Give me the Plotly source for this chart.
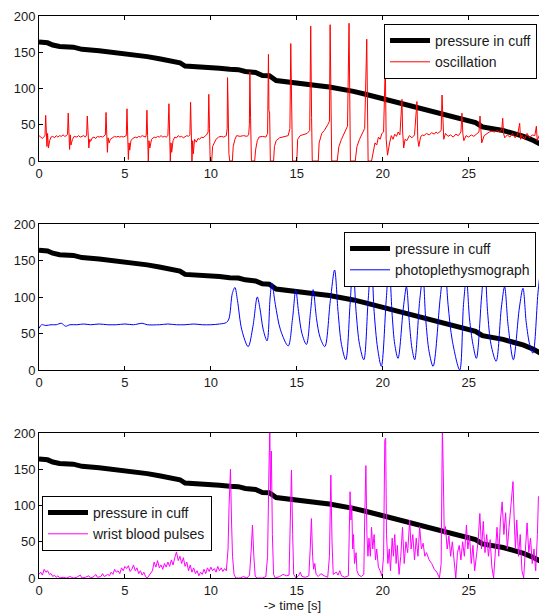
import plotly.graph_objects as go

# ---------------- data ----------------
# pressure in cuff: (time [s], pressure)
cuff_pts = [
    (0, 164), (0.5, 163), (0.8, 160), (1.2, 158), (2.0, 157), (2.5, 154),
    (3.5, 152), (5.0, 148.5), (6.3, 144), (7.0, 141), (7.6, 138.5), (8.2, 135.5),
    (8.5, 131), (9.7, 130), (10.5, 128), (11.1, 126.5), (11.6, 126), (12.0, 123.5),
    (12.6, 122), (13.0, 118), (13.4, 117.5), (13.8, 111), (14.2, 110), (15.4, 107),
    (16.0, 106), (16.4, 103.5), (16.9, 102), (17.5, 100), (18.3, 96), (19.0, 92),
    (20.0, 86), (21.0, 80), (21.8, 74), (22.6, 70), (23.5, 65), (24.3, 60),
    (25.0, 55), (25.4, 53), (25.8, 47), (26.4, 45), (27.0, 42), (27.6, 38),
    (28.2, 34), (28.8, 28), (29.5, 19),
]

# oscillation (red)
osc_pts = [
    (0.0, 35), (0.1, 33), (0.2, 31), (0.3, 34), (0.35, 35), (0.39, 63), (0.43, 40), (0.46, 20),
    (0.5, 38), (0.55, 18), (0.62, 28), (0.7, 33), (0.8, 34), (0.9, 32), (1.0, 35), (1.1, 33),
    (1.2, 35), (1.3, 34), (1.4, 36), (1.5, 34), (1.6, 35), (1.66, 37), (1.70, 66), (1.74, 38),
    (1.78, 16), (1.82, 36), (1.86, 22), (1.95, 30), (2.05, 34), (2.2, 33), (2.3, 35), (2.4, 33),
    (2.5, 34), (2.6, 35), (2.7, 33), (2.77, 36), (2.81, 62), (2.85, 30), (2.9, 18), (2.95, 30),
    (3.0, 27), (3.1, 32), (3.2, 33), (3.3, 31), (3.4, 34), (3.5, 33), (3.6, 34), (3.7, 33),
    (3.8, 35), (3.86, 36), (3.9, 67), (3.94, 40), (3.98, 12), (4.02, 32), (4.08, 25), (4.15, 30),
    (4.3, 32), (4.4, 34), (4.5, 33), (4.6, 34), (4.7, 33), (4.8, 34), (4.9, 33), (5.0, 34),
    (5.08, 35), (5.12, 72), (5.16, 30), (5.2, 2), (5.24, 25), (5.28, 15), (5.35, 28), (5.45, 31),
    (5.6, 33), (5.7, 32), (5.8, 34), (5.9, 33), (6.0, 35), (6.1, 34), (6.2, 33), (6.24, 36),
    (6.28, 70), (6.32, 35), (6.36, 0), (6.4, 28), (6.45, 18), (6.55, 30), (6.7, 33), (6.8, 32),
    (6.9, 34), (7.0, 33), (7.1, 35), (7.2, 33), (7.3, 34), (7.4, 33), (7.5, 35), (7.56, 79),
    (7.6, 40), (7.64, 0), (7.68, 25), (7.72, 12), (7.8, 28), (7.9, 33), (8.0, 32), (8.1, 35),
    (8.2, 33), (8.3, 34), (8.4, 32), (8.5, 33), (8.6, 35), (8.7, 34), (8.78, 36), (8.82, 81),
    (8.86, 40), (8.9, 0), (8.94, 28), (8.98, 10), (9.05, 30), (9.15, 26), (9.25, 31), (9.35, 30),
    (9.45, 33), (9.55, 32), (9.65, 34), (9.75, 36), (9.84, 40), (9.88, 92), (9.92, 45), (9.96, 0),
    (10.05, 0), (10.1, 20), (10.2, 25), (10.3, 30), (10.45, 33), (10.6, 34), (10.75, 33), (10.9, 35),
    (10.95, 45), (10.97, 115), (11.0, 80), (11.05, 10), (11.1, 0), (11.25, 0), (11.3, 20), (11.4, 30),
    (11.5, 35), (11.7, 34), (11.9, 35), (12.1, 34), (12.2, 36), (12.24, 50), (12.27, 123), (12.31, 60),
    (12.36, 0), (12.55, 0), (12.6, 15), (12.7, 28), (12.8, 33), (13.0, 34), (13.2, 33), (13.3, 38),
    (13.35, 147), (13.38, 70), (13.42, 66), (13.46, 0), (13.65, 0), (13.7, 20), (13.8, 28), (14.0, 32),
    (14.2, 33), (14.5, 35), (14.6, 45), (14.65, 162), (14.7, 80), (14.75, 0), (15.0, 0), (15.05, 30),
    (15.2, 35), (15.4, 36), (15.6, 38), (15.75, 42), (15.81, 186), (15.86, 60), (15.9, 0), (16.25, 0),
    (16.3, 25), (16.45, 38), (16.6, 42), (16.8, 50), (16.9, 55), (16.94, 188), (16.99, 40), (17.03, 0),
    (17.35, 0), (17.45, 20), (17.6, 30), (17.8, 40), (17.95, 48), (18.04, 190), (18.08, 40), (18.12, 0),
    (18.4, 0), (18.5, 20), (18.65, 30), (18.8, 38), (18.95, 45), (19.07, 168), (19.11, 30), (19.15, 0),
    (19.35, 0), (19.45, 15), (19.55, 25), (19.65, 22), (19.75, 33), (19.85, 30), (19.95, 38), (20.05, 40),
    (20.15, 135), (20.2, 30), (20.28, 8), (20.4, 25), (20.5, 35), (20.6, 30), (20.7, 37), (20.8, 34),
    (20.9, 40), (21.0, 36), (21.12, 85), (21.16, 40), (21.22, 18), (21.3, 30), (21.4, 28), (21.55, 35),
    (21.7, 32), (21.85, 36), (21.99, 82), (22.04, 30), (22.1, 20), (22.2, 33), (22.3, 36), (22.4, 35),
    (22.55, 38), (22.7, 36), (22.85, 39), (23.0, 37), (23.1, 40), (23.2, 38), (23.3, 40), (23.4, 42),
    (23.45, 91), (23.5, 42), (23.55, 30), (23.65, 38), (23.8, 34), (23.95, 36), (24.1, 33), (24.25, 37),
    (24.4, 35), (24.55, 40), (24.61, 66), (24.66, 38), (24.72, 28), (24.85, 35), (25.0, 33), (25.15, 36),
    (25.3, 34), (25.45, 37), (25.6, 40), (25.66, 62), (25.7, 40), (25.76, 25), (25.9, 35), (26.05, 38),
    (26.2, 40), (26.35, 41), (26.5, 40), (26.65, 42), (26.8, 40), (26.93, 44), (26.98, 59), (27.03, 38),
    (27.1, 32), (27.25, 36), (27.4, 33), (27.55, 38), (27.7, 32), (27.85, 36), (27.97, 52), (28.02, 30),
    (28.1, 36), (28.25, 30), (28.4, 38), (28.55, 32), (28.7, 36), (28.85, 35), (28.94, 48), (28.99, 28),
    (29.1, 35), (29.25, 30), (29.4, 38), (29.5, 33),
]

# photoplethysmograph (blue)
ppg_pts = [
    (0, 57), (0.15, 62), (0.4, 61), (0.7, 62), (1.0, 62), (1.3, 64), (1.55, 60), (1.8, 62),
    (2.2, 62), (2.6, 63), (3.0, 62), (3.5, 63), (4.0, 62), (4.5, 62), (5.0, 63), (5.5, 62),
    (6.0, 64), (6.3, 62), (7.0, 62), (7.5, 63), (8.0, 62), (8.5, 62), (9.0, 63), (9.5, 62),
    (10.0, 62), (10.5, 63), (10.9, 65), (11.05, 70), (11.25, 105), (11.4, 113), (11.55, 95),
    (11.8, 55), (12.17, 32), (12.45, 60), (12.7, 100), (12.85, 85), (13.05, 55), (13.27, 40),
    (13.45, 100), (13.55, 119), (13.75, 90), (14.05, 55), (14.5, 33), (14.75, 70), (14.94, 110),
    (15.1, 80), (15.3, 50), (15.56, 35), (15.8, 80), (15.95, 110), (16.15, 70), (16.35, 45),
    (16.63, 32), (16.95, 95), (17.2, 137), (17.4, 80), (17.6, 35), (17.85, 14), (18.1, 90),
    (18.27, 145), (18.45, 80), (18.65, 35), (18.9, 14), (19.15, 95), (19.34, 148), (19.5, 80),
    (19.7, 30), (19.92, 5), (20.2, 95), (20.37, 145), (20.55, 75), (20.7, 35), (20.89, 16),
    (21.2, 85), (21.38, 114), (21.55, 65), (21.7, 30), (21.86, 14), (22.15, 95), (22.34, 128),
    (22.5, 70), (22.7, 25), (22.93, 5), (23.35, 100), (23.6, 148), (23.8, 90), (24.05, 40),
    (24.48, 0), (24.7, 90), (24.87, 126), (25.05, 70), (25.25, 35), (25.45, 16), (25.75, 100),
    (25.93, 145), (26.1, 80), (26.3, 35), (26.6, 12), (26.9, 85), (27.09, 114), (27.3, 60),
    (27.6, 14), (27.95, 85), (28.16, 112), (28.35, 65), (28.55, 35), (28.74, 23), (29.05, 110),
    (29.23, 139), (29.4, 125), (29.5, 115),
]

# wrist blood pulses (magenta)
wrist_pts = [
    (0, 5), (0.1, 8), (0.2, 4), (0.3, 12), (0.4, 8), (0.5, 10), (0.6, 5), (0.7, 6), (0.8, 2),
    (0.9, 4), (1.0, 1), (1.1, 3), (1.2, 0), (1.4, 1), (1.6, 0), (1.8, 2), (2.0, 0), (2.2, 1),
    (2.4, 4), (2.5, 0), (2.7, 1), (2.9, 3), (3.0, 0), (3.2, 2), (3.3, 5), (3.4, 1), (3.6, 2),
    (3.7, 6), (3.8, 2), (4.0, 5), (4.1, 3), (4.2, 8), (4.3, 5), (4.4, 12), (4.5, 8), (4.6, 10),
    (4.7, 6), (4.8, 14), (4.9, 10), (5.0, 16), (5.1, 13), (5.2, 17), (5.3, 9), (5.4, 12),
    (5.5, 18), (5.6, 10), (5.7, 14), (5.8, 6), (5.9, 10), (6.0, 4), (6.1, 8), (6.2, 2), (6.3, 0),
    (6.4, 3), (6.5, 6), (6.6, 10), (6.7, 22), (6.8, 15), (6.9, 24), (7.0, 14), (7.1, 18),
    (7.2, 12), (7.3, 20), (7.4, 15), (7.5, 22), (7.6, 16), (7.7, 25), (7.8, 18), (7.9, 28),
    (8.0, 36), (8.1, 24), (8.2, 30), (8.3, 20), (8.4, 28), (8.5, 16), (8.6, 22), (8.7, 10),
    (8.8, 18), (8.9, 8), (9.0, 14), (9.1, 6), (9.2, 10), (9.3, 3), (9.4, 8), (9.5, 5), (9.6, 12),
    (9.7, 6), (9.8, 14), (9.9, 9), (10.0, 15), (10.1, 10), (10.2, 13), (10.3, 8), (10.4, 16),
    (10.5, 10), (10.6, 14), (10.7, 9), (10.8, 13), (10.9, 10), (11.0, 40), (11.06, 100),
    (11.14, 150), (11.2, 80), (11.26, 30), (11.35, 5), (11.45, 0), (11.7, 0), (11.9, 2),
    (12.1, 0), (12.25, 4), (12.35, 40), (12.42, 73), (12.5, 30), (12.58, 2), (12.7, 0), (13.0, 0),
    (13.2, 2), (13.3, 30), (13.38, 150), (13.43, 205), (13.47, 120), (13.52, 175), (13.58, 60),
    (13.65, 5), (13.75, 0), (14.0, 2), (14.2, 5), (14.4, 3), (14.55, 4), (14.62, 60), (14.69, 149),
    (14.76, 60), (14.82, 5), (14.95, 0), (15.1, 3), (15.2, 8), (15.3, 2), (15.5, 1), (15.7, 3),
    (15.78, 40), (15.85, 82), (15.92, 30), (15.98, 12), (16.05, 20), (16.12, 5), (16.25, 2),
    (16.4, 6), (16.6, 3), (16.8, 1), (16.9, 30), (16.98, 142), (17.05, 50), (17.12, 5), (17.3, 8),
    (17.4, 4), (17.5, 10), (17.6, 3), (17.8, 1), (18.0, 3), (18.05, 60), (18.1, 119), (18.15, 80),
    (18.2, 100), (18.25, 40), (18.3, 60), (18.36, 20), (18.45, 35), (18.5, 10), (18.6, 4),
    (18.75, 2), (18.9, 5), (18.95, 80), (19.02, 155), (19.08, 60), (19.14, 30), (19.2, 55),
    (19.28, 30), (19.35, 70), (19.42, 40), (19.5, 60), (19.58, 25), (19.65, 40), (19.75, 15),
    (19.85, 10), (19.95, 3), (20.05, 30), (20.12, 190), (20.17, 193), (20.22, 60), (20.3, 20),
    (20.38, 40), (20.45, 10), (20.55, 55), (20.62, 30), (20.7, 60), (20.78, 20), (20.85, 45),
    (20.95, 5), (21.05, 30), (21.15, 70), (21.25, 20), (21.35, 50), (21.45, 35), (21.57, 80),
    (21.65, 40), (21.75, 60), (21.85, 25), (21.95, 55), (22.05, 30), (22.15, 71), (22.25, 40),
    (22.35, 48), (22.45, 30), (22.55, 35), (22.7, 25), (22.85, 20), (23.0, 12), (23.15, 8),
    (23.3, 0), (23.4, 20), (23.47, 210), (23.52, 150), (23.58, 60), (23.65, 71), (23.75, 40),
    (23.85, 58), (23.95, 30), (24.05, 50), (24.15, 20), (24.25, 0), (24.35, 35), (24.45, 45),
    (24.55, 25), (24.65, 50), (24.75, 30), (24.87, 73), (24.95, 40), (25.05, 58), (25.15, 20),
    (25.25, 45), (25.35, 10), (25.45, 30), (25.55, 51), (25.65, 89), (25.75, 40), (25.85, 78),
    (25.95, 35), (26.05, 60), (26.15, 30), (26.25, 53), (26.35, 15), (26.45, 0), (26.55, 40),
    (26.65, 70), (26.75, 30), (26.85, 80), (26.95, 105), (27.05, 60), (27.15, 90), (27.25, 40),
    (27.35, 70), (27.45, 100), (27.58, 133), (27.65, 80), (27.72, 40), (27.8, 80), (27.9, 30),
    (28.0, 60), (28.1, 10), (28.2, 0), (28.3, 45), (28.4, 76), (28.5, 35), (28.6, 55), (28.7, 20),
    (28.8, 40), (28.9, 10), (29.0, 60), (29.06, 112), (29.13, 114), (29.2, 50), (29.3, 24),
    (29.4, 40), (29.5, 33),
]

x_ticks = [0, 5, 10, 15, 20, 25]
y_ticks = [0, 50, 100, 150, 200]
cuff_label = "pressure in cuff"
signal_labels = ["oscillation", "photoplethysmograph", "wrist blood pulses"]
signal_colors = ["#ff0000", "#0000ff", "#ff00ff"]
x_title = "-> time [s]"


def split(pts):
    return [p[0] for p in pts], [p[1] for p in pts]


cuff_t, cuff_v = split(cuff_pts)
signals = [split(osc_pts), split(ppg_pts), split(wrist_pts)]

FONT = "Arial, Liberation Sans, sans-serif"
TXT = "#1a1a1a"
fig = go.Figure()

legends = ["legend", "legend2", "legend3"]
for i in range(3):
    ax = "" if i == 0 else str(i + 1)
    fig.add_trace(go.Scatter(
        x=cuff_t, y=cuff_v, mode="lines", name=cuff_label,
        line=dict(color="black", width=5), xaxis="x" + ax, yaxis="y" + ax,
        legend=legends[i], showlegend=True,
    ))
    st, sv = signals[i]
    fig.add_trace(go.Scatter(
        x=st, y=sv, mode="lines", name=signal_labels[i],
        line=dict(color=signal_colors[i], width=1,
                  shape="spline" if i == 1 else "linear", smoothing=0.9),
        xaxis="x" + ax, yaxis="y" + ax, legend=legends[i], showlegend=True,
    ))

# page body has an 8px margin: the figure starts at (8, 8) in the window
OFF = 8
H_PLOT = 562.0          # plot region: window y 16 .. 578
W_PLOT = 507.0          # plot region: window x 39 .. 546
domains = [
    [(578 - 161) / H_PLOT, 1.0],
    [(578 - 370) / H_PLOT, (578 - 224) / H_PLOT],
    [0.0, (578 - 433) / H_PLOT],
]

axis_common = dict(
    showline=True, linecolor="black", linewidth=1, mirror="ticks",
    ticks="inside", ticklen=4, tickcolor="black", tickwidth=1,
    showgrid=False, zeroline=False,
    tickfont=dict(family=FONT, size=13, color=TXT),
)

layout = dict(
    width=547 - OFF, height=616 - OFF, autosize=False,
    margin=dict(l=39 - OFF, r=1, t=16 - OFF, b=(616 - OFF) - (16 - OFF) - int(H_PLOT), pad=0),
    paper_bgcolor="white", plot_bgcolor="white",
    font=dict(family=FONT, size=13, color=TXT),
)
for i in range(3):
    ax = "" if i == 0 else str(i + 1)
    layout["xaxis" + ax] = dict(
        axis_common, range=[0, 29.5], tickvals=x_ticks, anchor="y" + ax,
        domain=[0, 1],
    )
    layout["yaxis" + ax] = dict(
        axis_common, range=[0, 200], tickvals=y_ticks, anchor="x" + ax,
        domain=domains[i],
    )
layout["xaxis3"]["title"] = dict(text=x_title, standoff=4,
                                 font=dict(family=FONT, size=13, color=TXT))

leg_common = dict(
    bgcolor="white", bordercolor="black", borderwidth=1,
    font=dict(family=FONT, size=14, color=TXT),
    itemwidth=40, tracegroupgap=0,
)
layout["legend"] = dict(leg_common, x=(384 - 39) / W_PLOT, y=(578 - 24) / H_PLOT,
                        xanchor="left", yanchor="top")
layout["legend2"] = dict(leg_common, x=(344 - 39) / W_PLOT, y=(578 - 232) / H_PLOT,
                         xanchor="left", yanchor="top")
layout["legend3"] = dict(leg_common, x=(42 - 39) / W_PLOT, y=(578 - 496) / H_PLOT,
                         xanchor="left", yanchor="top")

fig.update_layout(**layout)
# hide page scrollbars so the figure's right edge is not covered
fig.write_html(
    "out.html",
    post_script="document.documentElement.style.overflow='hidden';"
                "document.body.style.overflow='hidden';",
)
